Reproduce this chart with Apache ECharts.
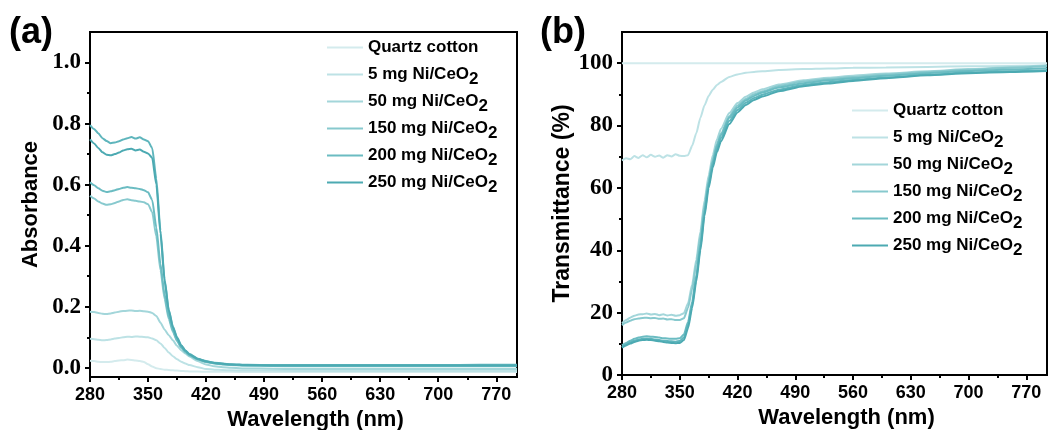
<!DOCTYPE html>
<html>
<head>
<meta charset="utf-8">
<script src="https://cdn.jsdelivr.net/npm/echarts@6/dist/echarts.min.js"></script>
<style>
  html, body { margin: 0; padding: 0; background: #fff; }
  #chart { width: 1051px; height: 430px; }
</style>
</head>
<body>
<div id="chart"></div>
<script>
// wavelength grid (nm)
var wavelength = [280, 285, 290, 295, 300, 305, 310, 315, 320, 325, 330, 335, 340, 345, 350, 355, 360, 365, 370, 375,
  380, 385, 390, 395, 400, 410, 420, 430, 440, 450, 470, 500, 530, 560, 600, 650, 700, 750, 795];

var names = ['Quartz cotton', '5 mg Ni/CeO2', '50 mg Ni/CeO2', '150 mg Ni/CeO2', '200 mg Ni/CeO2', '250 mg Ni/CeO2'];
var xTicks = [280, 350, 420, 490, 560, 630, 700, 770];
var xMinor = [315, 385, 455, 525, 595, 665, 735];
var absTicks = [0, 0.2, 0.4, 0.6, 0.8, 1.0];
var absMinor = [0.1, 0.3, 0.5, 0.7, 0.9];
var transTicks = [0, 20, 40, 60, 80, 100];
var transMinor = [10, 30, 50, 70, 90];

// (a) absorbance
var absQuartz = [0.023, 0.022, 0.020, 0.019, 0.019, 0.020, 0.022, 0.024, 0.025, 0.027, 0.026, 0.024, 0.022, 0.019, 0.012, 0.004, -0.001, -0.004, -0.006, -0.007,
  -0.008, -0.009, -0.010, -0.011, -0.012, -0.012, -0.013, -0.013, -0.013, -0.013, -0.014, -0.014, -0.014, -0.014, -0.014, -0.014, -0.014, -0.014, -0.014];
var abs5 = [0.095, 0.094, 0.092, 0.090, 0.091, 0.093, 0.096, 0.098, 0.100, 0.102, 0.101, 0.103, 0.102, 0.101, 0.100, 0.096, 0.090, 0.080, 0.065, 0.050,
  0.038, 0.028, 0.020, 0.014, 0.009, 0.002, -0.004, -0.006, -0.007, -0.008, -0.009, -0.009, -0.010, -0.010, -0.010, -0.010, -0.010, -0.010, -0.010];
var abs50 = [0.184, 0.183, 0.180, 0.177, 0.176, 0.178, 0.181, 0.184, 0.186, 0.187, 0.188, 0.186, 0.187, 0.185, 0.184, 0.180, 0.170, 0.148, 0.125, 0.107,
  0.090, 0.072, 0.058, 0.047, 0.037, 0.022, 0.011, 0.005, 0.002, 0.000, -0.002, -0.003, -0.004, -0.004, -0.004, -0.004, -0.004, -0.004, -0.004];
var abs150 = [0.564, 0.555, 0.545, 0.538, 0.534, 0.536, 0.540, 0.545, 0.550, 0.552, 0.549, 0.547, 0.545, 0.542, 0.536, 0.510, 0.430, 0.320, 0.225, 0.160,
  0.118, 0.088, 0.066, 0.051, 0.040, 0.027, 0.019, 0.014, 0.011, 0.009, 0.007, 0.006, 0.005, 0.005, 0.005, 0.005, 0.005, 0.005, 0.005];
var abs200 = [0.608, 0.598, 0.588, 0.580, 0.576, 0.578, 0.582, 0.586, 0.590, 0.592, 0.590, 0.588, 0.586, 0.582, 0.575, 0.550, 0.460, 0.340, 0.240, 0.168,
  0.122, 0.090, 0.068, 0.053, 0.042, 0.028, 0.020, 0.015, 0.012, 0.010, 0.008, 0.007, 0.006, 0.006, 0.006, 0.006, 0.006, 0.006, 0.006];
var absExtra = [0.795, 0.782, 0.768, 0.752, 0.743, 0.736, 0.738, 0.742, 0.748, 0.752, 0.756, 0.751, 0.755, 0.748, 0.742, 0.720, 0.620, 0.450, 0.290, 0.190,
  0.135, 0.100, 0.074, 0.057, 0.045, 0.030, 0.022, 0.017, 0.014, 0.012, 0.010, 0.009, 0.009, 0.009, 0.009, 0.009, 0.009, 0.010, 0.010];
var abs250 = [0.748, 0.735, 0.720, 0.706, 0.698, 0.696, 0.700, 0.705, 0.712, 0.716, 0.718, 0.712, 0.715, 0.708, 0.702, 0.688, 0.600, 0.440, 0.285, 0.188,
  0.133, 0.098, 0.073, 0.056, 0.044, 0.029, 0.021, 0.016, 0.013, 0.011, 0.009, 0.008, 0.008, 0.008, 0.008, 0.008, 0.008, 0.008, 0.008];

// (b) transmittance (%)
var trQuartz = [100, 100, 100, 100, 100, 100, 100, 100, 100, 100, 100, 100, 100, 100, 100, 100, 100, 100, 100, 100,
  100, 100, 100, 100, 100, 100, 100, 100, 100, 100, 100, 100, 100, 100, 100, 100, 100, 100, 100];
var tr5 = [68.8, 69.5, 69.2, 70.2, 69.6, 70.5, 69.8, 70.6, 70.0, 70.4, 69.7, 70.5, 70.1, 70.8, 70.3, 70.2, 70.5, 73.5, 77.5, 82.5,
  86.5, 89.5, 91.5, 93.0, 94.0, 95.6, 96.4, 96.9, 97.2, 97.4, 97.8, 98.1, 98.3, 98.5, 98.6, 98.8, 99.0, 99.1, 99.2];
var tr50 = [16.5, 17.6, 18.4, 19.0, 19.4, 19.5, 19.7, 19.4, 19.6, 19.2, 19.5, 19.1, 19.3, 19.0, 19.2, 19.8, 23.0, 29.0, 37.0, 46.0,
  56.0, 64.0, 70.5, 75.5, 79.0, 84.0, 87.2, 89.2, 90.6, 91.6, 93.2, 94.5, 95.3, 96.0, 96.7, 97.4, 98.1, 98.7, 99.3];
var tr150 = [16.0, 16.8, 17.4, 17.9, 18.1, 18.3, 18.4, 18.2, 18.3, 18.0, 18.1, 17.8, 17.9, 17.6, 17.6, 18.2, 21.5, 27.5, 35.5, 44.5,
  54.5, 62.5, 69.0, 74.0, 77.5, 83.0, 86.4, 88.5, 90.0, 91.0, 92.7, 94.1, 94.9, 95.6, 96.4, 97.2, 97.9, 98.5, 99.1];
var tr200 = [9.5, 10.3, 11.0, 11.6, 12.0, 12.3, 12.4, 12.3, 12.2, 12.0, 11.8, 11.7, 11.6, 11.6, 11.8, 13.0, 17.0, 23.5, 32.0, 42.0,
  53.0, 62.0, 68.5, 73.5, 77.0, 82.5, 85.8, 88.0, 89.5, 90.6, 92.2, 93.6, 94.5, 95.2, 96.0, 96.8, 97.5, 98.0, 98.4];
var trExtra = [9.0, 9.8, 10.5, 11.0, 11.4, 11.6, 11.7, 11.6, 11.4, 11.2, 11.0, 10.9, 10.8, 10.7, 10.9, 12.0, 16.0, 22.5, 31.0, 41.0,
  52.0, 61.0, 67.5, 72.5, 76.0, 81.5, 85.0, 87.3, 88.8, 89.9, 91.5, 93.0, 93.9, 94.6, 95.4, 96.3, 97.0, 97.4, 97.7];
var tr250 = [8.8, 9.5, 10.1, 10.6, 11.0, 11.2, 11.3, 11.2, 11.0, 10.8, 10.6, 10.4, 10.3, 10.2, 10.3, 11.2, 15.0, 21.5, 30.0, 40.0,
  51.0, 60.0, 66.5, 71.5, 75.0, 80.5, 84.2, 86.6, 88.2, 89.3, 91.0, 92.6, 93.5, 94.3, 95.2, 96.1, 96.8, 97.2, 97.5];

var colors = ['#d4ebed', '#bde2e5', '#a3d6da', '#87c9ce', '#6bbcc2', '#5eb5bc', '#4caab2'];
var sans = 'Liberation Sans';
var serif = 'Liberation Serif';

var chart = echarts.init(document.getElementById('chart'));

function line(name, vals, color, idx) {
  return {
    name: name,
    type: 'line',
    xAxisIndex: idx,
    yAxisIndex: idx,
    symbol: 'none',
    smooth: 0.2,
    smoothMonotone: 'x',
    color: color,
    lineStyle: { width: 2, color: color },
    data: wavelength.map(function (w, i) { return [w, vals[i]] })
  }
}

function xAxis(gi, main) {
  return {
    type: 'value',
    gridIndex: gi,
    position: 'bottom',
    min: 280,
    max: 795,
    name: main ? 'Wavelength (nm)' : '',
    nameLocation: 'middle',
    nameGap: 25,
    nameTextStyle: { fontFamily: sans, fontWeight: 'bold', fontSize: 22, color: '#000', padding: [0, 0, 0, 24] },
    axisLine: { show: false, onZero: false },
    splitLine: { show: false },
    axisTick: { show: true, inside: false, length: main ? 5 : 3, customValues: main ? xTicks : xMinor,
      lineStyle: { color: '#000', width: 2 } },
    axisLabel: { show: main, customValues: xTicks, margin: 9, fontFamily: sans, fontWeight: 'bold', fontSize: 18, color: '#000' }
  }
}

function yAxis(gi, main, o) {
  return {
    type: 'value',
    gridIndex: gi,
    position: 'left',
    min: o.min,
    max: o.max,
    name: main ? o.name : '',
    nameLocation: 'middle',
    nameGap: o.gap,
    nameTextStyle: { fontFamily: sans, fontWeight: 'bold', fontSize: o.fs, color: '#000' },
    axisLine: { show: false, onZero: false },
    splitLine: { show: false },
    axisTick: { show: true, inside: false, length: main ? 5 : 3, customValues: main ? o.ticks : o.minor,
      lineStyle: { color: '#000', width: 2 } },
    axisLabel: { show: main, customValues: o.ticks, margin: 9, fontFamily: serif, fontWeight: 'bold', fontSize: 23, color: '#000',
      formatter: o.fmt }
  }
}

function legend(left, top) {
  return {
    orient: 'vertical',
    left: left,
    top: top,
    padding: 0,
    data: names,
    itemWidth: 36,
    itemHeight: 14,
    itemGap: 0,
    icon: 'path://M0,6 L36,6 L36,8 L0,8 Z',
    formatter: function (n) {
      if (n.slice(-1) === '2') return '{b|' + n.slice(0, -1) + '}{s|2}';
      return '{b|' + n + '}{s| }';
    },
    textStyle: {
      rich: {
        b: { fontFamily: sans, fontWeight: 'bold', fontSize: 17, color: '#000', lineHeight: 14, verticalAlign: 'middle' },
        s: { fontFamily: sans, fontWeight: 'bold', fontSize: 17, color: '#000', lineHeight: 14, padding: [10, 0, 0, 0], verticalAlign: 'middle' }
      }
    }
  }
}

var absOpt = { min: -0.03, max: 1.1, name: 'Absorbance', gap: 48, fs: 22, ticks: absTicks, minor: absMinor,
  fmt: function (v) { return v.toFixed(1) } };
var trOpt = { min: 0, max: 110, name: 'Transmittance (%)', gap: 45, fs: 23, ticks: transTicks, minor: transMinor,
  fmt: function (v) { return String(v) } };

chart.setOption({
  animation: false,
  backgroundColor: '#fff',
  grid: [
    { left: 90, top: 32, width: 427, height: 345, show: true, borderColor: '#000', borderWidth: 2,
      containLabel: false, outerBoundsMode: 'none' },
    { left: 622, top: 32, width: 425, height: 343, show: true, borderColor: '#000', borderWidth: 2,
      containLabel: false, outerBoundsMode: 'none' }
  ],
  xAxis: [xAxis(0, true), xAxis(1, true), xAxis(0, false), xAxis(1, false)],
  yAxis: [yAxis(0, true, absOpt), yAxis(1, true, trOpt), yAxis(0, false, absOpt), yAxis(1, false, trOpt)],
  legend: [legend(327, 34), legend(852, 97)],
  graphic: [
    { type: 'text', left: 9, top: 15, style: { text: '(a)', fontFamily: sans, fontWeight: 'bold', fontSize: 36, fill: '#000' } },
    { type: 'text', left: 540, top: 15, style: { text: '(b)', fontFamily: sans, fontWeight: 'bold', fontSize: 36, fill: '#000' } }
  ],
  series: [
    line(names[0], absQuartz, colors[0], 0),
    line(names[1], abs5, colors[1], 0),
    line(names[2], abs50, colors[2], 0),
    line(names[3], abs150, colors[3], 0),
    line(names[4], abs200, colors[4], 0),
    line('extra a', absExtra, colors[5], 0),
    line(names[5], abs250, colors[6], 0),
    line(names[0], trQuartz, colors[0], 1),
    line(names[1], tr5, colors[1], 1),
    line(names[2], tr50, colors[2], 1),
    line(names[3], tr150, colors[3], 1),
    line(names[4], tr200, colors[4], 1),
    line('extra b', trExtra, colors[5], 1),
    line(names[5], tr250, colors[6], 1)
  ]
});
</script>
</body>
</html>
